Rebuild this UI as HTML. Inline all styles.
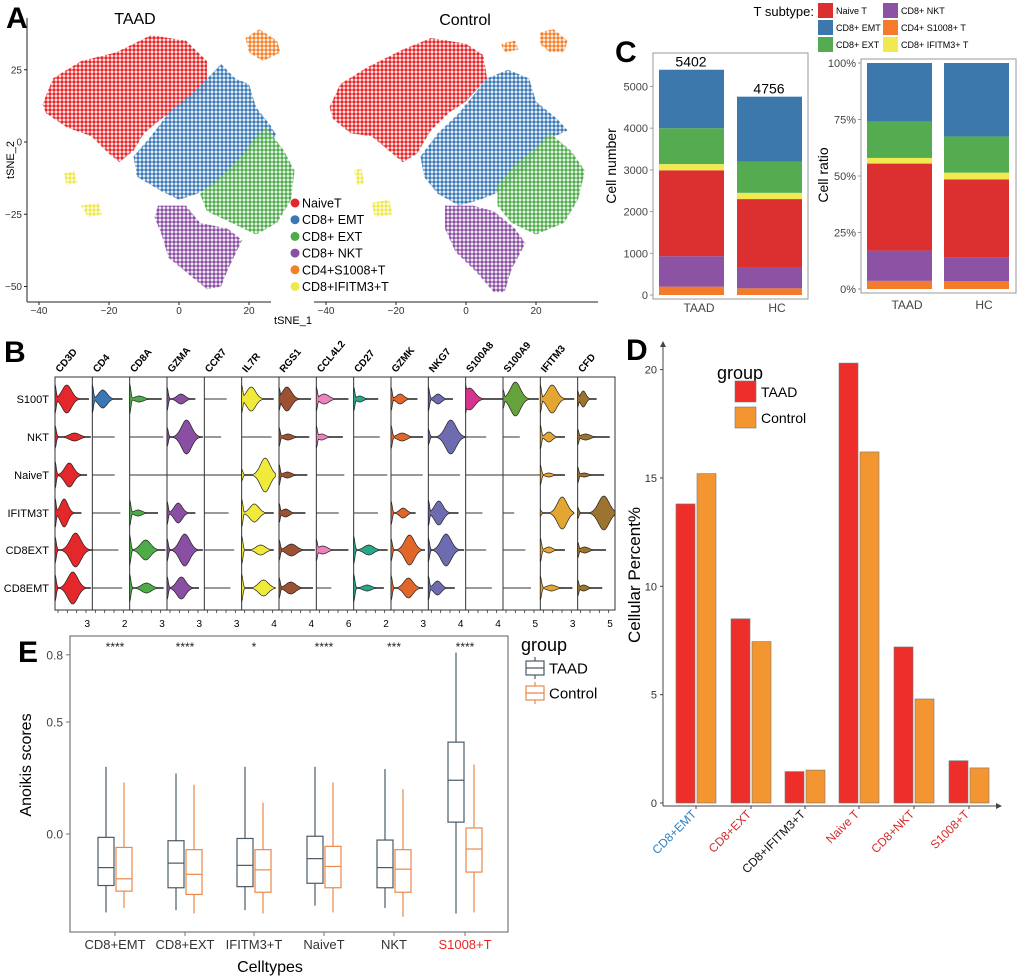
<!DOCTYPE html>
<html><head><meta charset="utf-8">
<style>
html,body{margin:0;padding:0;background:#fff;}
svg{display:block;font-family:"Liberation Sans",Arial,sans-serif;}
</style></head>
<body>
<svg id="fig" width="1020" height="979" viewBox="0 0 1020 979" xmlns="http://www.w3.org/2000/svg">
<defs>
<pattern id="pd-red" width="4" height="4" patternUnits="userSpaceOnUse"><circle cx="2" cy="2" r="1.7" fill="#e3272a"/></pattern>
<pattern id="pd-blue" width="4" height="4" patternUnits="userSpaceOnUse"><circle cx="2" cy="2" r="1.7" fill="#3a78b5"/></pattern>
<pattern id="pd-green" width="4" height="4" patternUnits="userSpaceOnUse"><circle cx="2" cy="2" r="1.7" fill="#4dac48"/></pattern>
<pattern id="pd-purple" width="4" height="4" patternUnits="userSpaceOnUse"><circle cx="2" cy="2" r="1.7" fill="#8a4ea2"/></pattern>
<pattern id="pd-orange" width="4" height="4" patternUnits="userSpaceOnUse"><circle cx="2" cy="2" r="1.7" fill="#f3812a"/></pattern>
<pattern id="pd-yellow" width="4" height="4" patternUnits="userSpaceOnUse"><circle cx="2" cy="2" r="1.7" fill="#eee84a"/></pattern>
</defs>
<text x="6" y="28" font-size="30" font-weight="bold">A</text>
<text x="135" y="24" font-size="16" text-anchor="middle">TAAD</text>
<text x="465" y="25" font-size="16" text-anchor="middle">Control</text>
<text x="615" y="62" font-size="30" font-weight="bold">C</text>
<text x="4" y="362" font-size="30" font-weight="bold">B</text>
<text x="626" y="360" font-size="30" font-weight="bold">D</text>
<text x="18" y="662" font-size="30" font-weight="bold">E</text>
<g id="gA"></g><g id="gB"></g><g id="gC"></g><g id="gD"></g><g id="gE"></g>
</svg>
<script>
// ===== Panel A data (cluster outlines in tSNE units) =====
const tsneClusters = ["NaiveT","CD8+ EMT","CD8+ EXT","CD8+ NKT","CD4+S1008+T","CD8+IFITM3+T"];
const tsneFills = ["pd-red","pd-blue","pd-green","pd-purple","pd-orange","pd-yellow"];
const tsneLegendColors = ["#e3272a","#3a78b5","#4dac48","#8a4ea2","#f3812a","#eee84a"];
const taadRed = [[-39,13],[-36,22],[-28,28],[-18,31],[-8,37],[2,35],[8,28],[8,18],[0,12],[-5,8],[-10,3],[-13,-3],[-17,-7],[-20,-4],[-25,2],[-32,5],[-38,10]];
const taadBlue = [[-13,-5],[-8,2],[-3,10],[5,18],[12,27],[16,22],[20,20],[22,12],[26,6],[28,2],[22,0],[18,-8],[10,-15],[5,-18],[0,-20],[-5,-17],[-12,-12]];
const taadGreen = [[6,-18],[12,-12],[18,-5],[22,2],[25,5],[30,-3],[33,-10],[32,-20],[28,-28],[22,-32],[15,-28],[8,-24]];
const taadPurple = [[-6,-22],[2,-22],[6,-28],[14,-30],[18,-34],[14,-44],[12,-50],[8,-51],[3,-46],[-3,-40],[-5,-32],[-7,-26]];
const taadOrange = [[19,36],[23,39],[28,35],[29,31],[24,28],[20,31]];
const taadYellowA = [[-33,-11],[-30,-10],[-29,-14],[-32,-15]];
const taadYellowB = [[-28,-22],[-23,-21],[-22,-25],[-26,-26]];
const ctrlRed = [[-39,12],[-36,20],[-28,26],[-18,32],[-10,36],[0,34],[5,30],[6,22],[0,14],[-5,10],[-10,4],[-14,-4],[-18,-7],[-22,-3],[-27,2],[-33,3],[-38,8]];
const ctrlBlue = [[-13,-5],[-8,3],[-2,10],[6,22],[12,25],[18,22],[20,14],[26,8],[29,4],[22,0],[18,-8],[10,-17],[4,-20],[-2,-22],[-8,-18],[-12,-12]];
const ctrlGreen = [[9,-15],[14,-8],[20,-2],[24,3],[30,-3],[34,-10],[32,-20],[28,-28],[20,-32],[13,-28],[9,-22]];
const ctrlPurple = [[-6,-22],[2,-22],[8,-24],[14,-30],[17,-35],[13,-44],[11,-52],[8,-52],[3,-45],[-3,-38],[-6,-30]];
const ctrlOrange = [[21,38],[25,39],[29,35],[28,31],[24,31],[21,34]];
const ctrlOrangeB = [[10,34],[14,35],[15,32],[11,31]];
const ctrlYellowA = [[-32,-10],[-30,-9],[-29,-14],[-31,-15]];
const ctrlYellowB = [[-27,-21],[-22,-20],[-21,-25],[-26,-26]];
const xTicksA = [-40,-20,0,20];
const yTicksA = [25,0,-25,-50];

// ===== Panel B data =====
const genes = ["CD3D","CD4","CD8A","GZMA","CCR7","IL7R","RGS1","CCL4L2","CD27","GZMK","NKG7","S100A8","S100A9","IFITM3","CFD"];
const geneColors = ["#e3272a","#3a78b5","#4dac48","#8a4ea2","#888","#f0ea3a","#9c5230","#ee82bf","#2aa68a","#e0662a","#6d6cb0","#d6338e","#66a23b","#e3a632","#9c7430"];
const cellRows = ["S100T","NKT","NaiveT","IFITM3T","CD8EXT","CD8EMT"];
const geneMaxLabels = ["3","2","3","3","3","4","4","6","2","3","4","4","5","3","5"];
// per gene: per row [length fraction, bump half-height, peak position, zero spike]
const vCD3D = [[.9,14,.35,15],[.95,4,.55,12],[.85,12,.45,14],[.7,14,.35,15],[1,17,.55,14],[.95,16,.5,14]];
const vCD4 = [[.8,9,.35,14],[.6,0,0,0],[.6,0,0,0],[.75,0,0,0],[.7,0,0,0],[.8,0,0,0]];
const vCD8A = [[.85,3,.3,15],[.9,0,0,0],[1,0,0,0],[.75,3,.3,13],[.95,10,.45,15],[.9,5,.5,14]];
const vGZMA = [[.75,5,.5,12],[.95,17,.55,10],[1,0,0,0],[.75,10,.4,12],[.95,16,.5,12],[.85,11,.45,12]];
const vCCR7 = [[.6,0,0,0],[.45,0,0,0],[1,0,0,0],[.65,0,0,0],[.8,0,0,0],[.7,0,0,0]];
const vIL7R = [[.85,12,.3,14],[.8,0,0,0],[.9,17,.7,6],[.85,9,.4,14],[.85,5,.6,14],[.9,8,.65,14]];
const vRGS1 = [[.85,12,.25,12],[.8,3,.3,10],[.75,3,.3,11],[.7,4,.25,10],[.95,6,.35,11],[.9,6,.35,11]];
const vCCL4L2 = [[.85,5,.25,12],[.7,3,.2,11],[.75,0,0,0],[.6,0,0,0],[.85,4,.2,11],[.4,0,0,0]];
const vCD27 = [[.65,3,.25,12],[.7,0,0,0],[.9,0,0,0],[.65,0,0,0],[.9,5,.45,14],[.8,3,.45,14]];
const vGZMK = [[.7,5,.35,12],[.85,4,.35,12],[.85,0,0,0],[.65,5,.5,12],[.9,15,.55,12],[.85,10,.55,13]];
const vNKG7 = [[.65,5,.4,12],[1,17,.6,8],[.85,0,0,0],[.8,12,.35,13],[.95,16,.5,12],[.7,7,.35,12]];
const vS100A8 = [[1,11,.1,14],[.55,0,0,0],[1,0,0,0],[.45,0,0,0],[.55,0,0,0],[.7,0,0,0]];
const vS100A9 = [[.95,17,.35,10],[.45,0,0,0],[1,0,0,0],[.3,0,0,0],[.6,0,0,0],[.75,0,0,0]];
const vIFITM3 = [[.9,14,.35,14],[.65,5,.35,12],[.65,2,.35,10],[.9,16,.65,3],[.65,3,.35,12],[.85,3,.35,12]];
const vCFD = [[.5,8,.3,8],[.85,3,.25,8],[.7,2,.25,8],[1,17,.7,6],[.75,3,.25,8],[.65,3,.25,8]];
const violinData = [vCD3D,vCD4,vCD8A,vGZMA,vCCR7,vIL7R,vRGS1,vCCL4L2,vCD27,vGZMK,vNKG7,vS100A8,vS100A9,vIFITM3,vCFD];

// ===== Panel C data =====
const subtypeNames = ["CD4+ S1008+ T","CD8+ NKT","Naive T","CD8+ IFITM3+ T","CD8+ EXT","CD8+ EMT"];
const subtypeColors = ["#f37b2b","#8c52a3","#dc2f2f","#f0ea50","#55ab4f","#3d78ad"];
const groupsC = ["TAAD","HC"];
const countsTAAD = [200,730,2060,150,860,1402];
const countsHC = [160,490,1650,150,750,1556];
const totalsC = ["5402","4756"];
const ratioTAAD = [3.6,13.4,38.5,2.5,16,26];
const ratioHC = [3.5,10.3,34.7,3,16,32.5];
const countTicks = [0,1000,2000,3000,4000,5000];
const ratioTicks = [0,25,50,75,100];

// ===== Panel D data =====
const catsD = ["CD8+EMT","CD8+EXT","CD8+IFITM3+T","Naive T","CD8+NKT","S1008+T"];
const catColorsD = ["#2f7fc1","#d62a2a","#111","#d62a2a","#d62a2a","#d62a2a"];
const taadPct = [13.8,8.5,1.45,20.3,7.2,1.95];
const controlPct = [15.2,7.45,1.52,16.2,4.8,1.62];
const yTicksD = [0,5,10,15,20];

// ===== Panel E data =====
const catsE = ["CD8+EMT","CD8+EXT","IFITM3+T","NaiveT","NKT","S1008+T"];
const sigE = ["****","****","*","****","***","****"];
// [low, q1, median, q3, high]
const boxTAAD = [[-.35,-.23,-.15,-.015,.30],[-.34,-.24,-.13,-.03,.27],[-.34,-.235,-.14,-.02,.30],[-.32,-.22,-.11,-.01,.30],[-.33,-.24,-.15,-.027,.29],[-.355,.053,.24,.41,.81]];
const boxCtrl = [[-.33,-.255,-.2,-.06,.23],[-.355,-.27,-.18,-.07,.22],[-.355,-.26,-.16,-.07,.14],[-.35,-.24,-.145,-.055,.23],[-.37,-.26,-.157,-.07,.2],[-.35,-.17,-.067,.027,.31]];
const yTicksE = [0.0,0.5,0.8];

const NS="http://www.w3.org/2000/svg";
function mk(tag,attrs,parent,text){const e=document.createElementNS(NS,tag);for(const k in attrs)e.setAttribute(k,attrs[k]);if(text!==undefined)e.textContent=text;parent.appendChild(e);return e;}

// ---------- Panel A ----------
(function(){
const g=document.getElementById('gA');
const yA=v=>142-2.89*v;
const panels=[{x0:179,ax0:27,ax1:271,name:'taad',sets:[[taadRed,0],[taadBlue,1],[taadGreen,2],[taadPurple,3],[taadOrange,4],[taadYellowA,5],[taadYellowB,5]]},
 {x0:466,ax0:314,ax1:598,name:'control',sets:[[ctrlRed,0],[ctrlBlue,1],[ctrlGreen,2],[ctrlPurple,3],[ctrlOrange,4],[ctrlOrangeB,4],[ctrlYellowA,5],[ctrlYellowB,5]]}];
panels.forEach(p=>{
 const xA=u=>p.x0+3.5*u;
 p.sets.forEach(s=>{
  const pts=s[0].map(q=>xA(q[0]).toFixed(1)+','+yA(q[1]).toFixed(1)).join(' ');
  const e=mk('polygon',{points:pts,fill:'url(#'+tsneFills[s[1]]+')'},g);
  
  
 });
 const xa=mk('line',{x1:p.ax0,y1:302,x2:p.ax1,y2:302,stroke:'#222','stroke-width':1},g);
 
 
 xTicksA.forEach(t=>{
  mk('line',{x1:xA(t),y1:302,x2:xA(t),y2:305,stroke:'#222'},g);
  const tl=mk('text',{x:xA(t),y:314,'font-size':10,'text-anchor':'middle',fill:'#333'},g,String(t).replace('-','−'));
  
  
 });
});
const ya=mk('line',{x1:27,y1:18,x2:27,y2:302,stroke:'#222'},g);


yTicksA.forEach(t=>{
 mk('line',{x1:24,y1:yA(t),x2:27,y2:yA(t),stroke:'#222'},g);
 const tl=mk('text',{x:22,y:yA(t)+3.5,'font-size':10,'text-anchor':'end',fill:'#333'},g,String(t).replace('-','−'));
 
 
});
const xt=mk('text',{x:293,y:324,'font-size':11,'text-anchor':'middle'},g,'tSNE_1');


const yt=mk('text',{x:14,y:160,'font-size':11,'text-anchor':'middle',transform:'rotate(-90 14 160)'},g,'tSNE_2');


tsneClusters.forEach((c,i)=>{
 const y=203+i*16.7;
 const d=mk('circle',{cx:295,cy:y,r:4.5,fill:tsneLegendColors[i]},g);
 
 
 const t=mk('text',{x:302,y:y+4.5,'font-size':12.5},g,c);
 
 
});
})();

// ---------- Panel B ----------
(function(){
const g=document.getElementById('gB');
const L=55,R=615,T=377,Bt=610,W=(R-L)/genes.length;
const rowY=[399,437,475,513,550,588];
const fr=mk('rect',{x:L,y:T,width:R-L,height:Bt-T,fill:'none',stroke:'#333','stroke-width':1},g);


genes.forEach((gn,gi)=>{
 const x0=L+gi*W;
 if(gi>0) mk('line',{x1:x0,y1:T,x2:x0,y2:Bt,stroke:'#333','stroke-width':1},g);
 const lab=mk('text',{x:x0+5,y:373,'font-size':10,'font-weight':'bold',transform:'rotate(-50 '+(x0+5)+' 373)'},g,gn);
 
 
 for(let k=0;k<4;k++) mk('line',{x1:x0+3+k*W/4,y1:Bt,x2:x0+3+k*W/4,y2:Bt+3,stroke:'#333','stroke-width':.8},g);
 const nl=mk('text',{x:x0+W-5,y:Bt+17,'font-size':10,'text-anchor':'middle'},g,geneMaxLabels[gi]);
 
 
 violinData[gi].forEach((v,ri)=>{
  const cy=rowY[ri],len=v[0]*W,h=v[1],pk=v[2],sp=v[3];
  const N=40,top=[],bot=[];
  for(let i=0;i<=N;i++){
   const t=i/N,dx=t*len;
   let f=Math.max(sp*Math.exp(-Math.pow(dx/1.6,2)), h*Math.exp(-Math.pow((t-pk)/0.2,2)), 0.4);
   top.push((x0+dx).toFixed(1)+','+(cy-f).toFixed(1));
   bot.unshift((x0+dx).toFixed(1)+','+(cy+f).toFixed(1));
  }
  let e;
  if(h===0&&sp===0){
   e=mk('line',{x1:x0,y1:cy,x2:x0+len,y2:cy,stroke:'#333','stroke-width':1},g);
  } else {
   e=mk('polygon',{points:top.concat(bot).join(' '),fill:geneColors[gi],stroke:'#222','stroke-width':.7},g);
  }
  
  
 });
});
cellRows.forEach((r,ri)=>{
 const t=mk('text',{x:49,y:rowY[ri]+4,'font-size':11,'text-anchor':'end'},g,r);
 
 
});
})();

// ---------- Panel C ----------
(function(){
const g=document.getElementById('gC');
const lt=mk('text',{x:814,y:16,'font-size':13,'text-anchor':'end'},g,'T subtype:');


const legOrder=[[2,818,3],[5,818,20],[4,818,37],[1,883,3],[0,883,20],[3,883,37]];
legOrder.forEach(o=>{
 const s=mk('rect',{x:o[1],y:o[2],width:15,height:15,fill:subtypeColors[o[0]]},g);
 
 
 const t=mk('text',{x:o[1]+18,y:o[2]+11,'font-size':9},g,subtypeNames[o[0]]);
 
 
});
const yC=v=>295-v*0.0417;
const f1=mk('rect',{x:653,y:53,width:155,height:246,fill:'none',stroke:'#999'},g);


const barX=[[659,65],[737,65]];
[countsTAAD,countsHC].forEach((arr,bi)=>{
 let acc=0;
 arr.forEach((v,si)=>{
  const r=mk('rect',{x:barX[bi][0],y:yC(acc+v),width:barX[bi][1],height:yC(acc)-yC(acc+v),fill:subtypeColors[si]},g);
  
  
  acc+=v;
 });
 const tl=mk('text',{x:barX[bi][0]+32,y:yC(acc)-3,'font-size':14,'text-anchor':'middle'},g,totalsC[bi]);
 
 
 const xl=mk('text',{x:barX[bi][0]+40,y:312,'font-size':12,'text-anchor':'middle',fill:'#444'},g,groupsC[bi]);
 
 
});
countTicks.forEach(t=>{
 mk('line',{x1:650,y1:yC(t),x2:653,y2:yC(t),stroke:'#999'},g);
 const e=mk('text',{x:648,y:yC(t)+4,'font-size':11,'text-anchor':'end',fill:'#444'},g,String(t));
 
 
});
const yt1=mk('text',{x:616,y:166,'font-size':14,'text-anchor':'middle',transform:'rotate(-90 616 166)'},g,'Cell number');


const yR=v=>289-v*2.26;
const f2=mk('rect',{x:861,y:59,width:155,height:234,fill:'none',stroke:'#999'},g);


const barR=[867,944];
[ratioTAAD,ratioHC].forEach((arr,bi)=>{
 let acc=0;
 arr.forEach((v,si)=>{
  const r=mk('rect',{x:barR[bi],y:yR(acc+v),width:65,height:yR(acc)-yR(acc+v),fill:subtypeColors[si]},g);
  
  
  acc+=v;
 });
 const xl=mk('text',{x:barR[bi]+40,y:309,'font-size':12,'text-anchor':'middle',fill:'#444'},g,groupsC[bi]);
 
 
});
ratioTicks.forEach(t=>{
 mk('line',{x1:858,y1:yR(t),x2:861,y2:yR(t),stroke:'#999'},g);
 const e=mk('text',{x:856,y:yR(t)+4,'font-size':11,'text-anchor':'end',fill:'#444'},g,t+'%');
 
 
});
const yt2=mk('text',{x:828,y:175,'font-size':14,'text-anchor':'middle',transform:'rotate(-90 828 175)'},g,'Cell ratio');


})();

// ---------- Panel D ----------
(function(){
const g=document.getElementById('gD');
const yD=v=>803-v*21.67;
const cx=[696,751,805,859,914,969];
const ya=mk('line',{x1:663,y1:806,x2:663,y2:345,stroke:'#444'},g);


mk('path',{d:'M660,347 L663,341 L666,347 Z',fill:'#444'},g);
const xa=mk('line',{x1:663,y1:806,x2:998,y2:806,stroke:'#444'},g);


mk('path',{d:'M996,803 L1002,806 L996,809 Z',fill:'#444'},g);
yTicksD.forEach(t=>{
 mk('line',{x1:660,y1:yD(t),x2:663,y2:yD(t),stroke:'#444'},g);
 const e=mk('text',{x:657,y:yD(t)+4,'font-size':11,'text-anchor':'end',fill:'#333'},g,String(t));
 
 
});
catsD.forEach((c,i)=>{
 const b1=mk('rect',{x:cx[i]-20,y:yD(taadPct[i]),width:19,height:yD(0)-yD(taadPct[i]),fill:'#ee2e2a',stroke:'#777','stroke-width':.6},g);
 
 
 const b2=mk('rect',{x:cx[i]+1,y:yD(controlPct[i]),width:19,height:yD(0)-yD(controlPct[i]),fill:'#f39530',stroke:'#777','stroke-width':.6},g);
 
 
 mk('line',{x1:cx[i],y1:806,x2:cx[i],y2:809,stroke:'#444'},g);
 const t=mk('text',{x:cx[i]+1,y:815,'font-size':12,'text-anchor':'end',fill:catColorsD[i],transform:'rotate(-45 '+(cx[i]+1)+' 815)'},g,c);
 
 
});
const yt=mk('text',{x:640,y:575,'font-size':17,'text-anchor':'middle',transform:'rotate(-90 640 575)'},g,'Cellular Percent%');


const lg=mk('text',{x:717,y:379,'font-size':18},g,'group');


[['TAAD','#ee2e2a',381],['Control','#f39530',407]].forEach(l=>{
 const s=mk('rect',{x:735,y:l[2],width:21,height:21,fill:l[1],stroke:'#777','stroke-width':.6},g);
 
 
 const t=mk('text',{x:761,y:l[2]+16,'font-size':14},g,l[0]);
 
 
});
})();

// ---------- Panel E ----------
(function(){
const g=document.getElementById('gE');
const yE=v=>834-v*224;
const cx=[115,185,254,324,394,465];
const fr=mk('rect',{x:70,y:636,width:438,height:296,fill:'none',stroke:'#777','stroke-width':1.2},g);


yTicksE.forEach(t=>{
 mk('line',{x1:66,y1:yE(t),x2:70,y2:yE(t),stroke:'#777'},g);
 const e=mk('text',{x:63,y:yE(t)+4.5,'font-size':12,'text-anchor':'end',fill:'#444'},g,t.toFixed(1));
 
 
});
function box(c,d,col,name){
 const gg=mk('g',{},g);
 
 
 mk('line',{x1:c,y1:yE(d[4]),x2:c,y2:yE(d[3]),stroke:col,'stroke-width':1.2},gg);
 mk('line',{x1:c,y1:yE(d[1]),x2:c,y2:yE(d[0]),stroke:col,'stroke-width':1.2},gg);
 mk('rect',{x:c-8,y:yE(d[3]),width:16,height:yE(d[1])-yE(d[3]),fill:'#fff',stroke:col,'stroke-width':1.2},gg);
 mk('line',{x1:c-8,y1:yE(d[2]),x2:c+8,y2:yE(d[2]),stroke:col,'stroke-width':1.2},gg);
}
catsE.forEach((c,i)=>{
 box(cx[i]-9,boxTAAD[i],'#4a5a66','box-taad-'+i);
 box(cx[i]+9,boxCtrl[i],'#e8894a','box-control-'+i);
 mk('line',{x1:cx[i],y1:932,x2:cx[i],y2:936,stroke:'#777'},g);
 const t=mk('text',{x:cx[i],y:949,'font-size':13,'text-anchor':'middle',fill:i===5?'#e8262a':'#333'},g,c);
 
 
 const s=mk('text',{x:cx[i],y:651,'font-size':12,'text-anchor':'middle',fill:'#222'},g,sigE[i]);
 
 
});
const xt=mk('text',{x:270,y:972,'font-size':16,'text-anchor':'middle'},g,'Celltypes');


const yt=mk('text',{x:31,y:765,'font-size':16,'text-anchor':'middle',transform:'rotate(-90 31 765)'},g,'Anoikis scores');


const lg=mk('text',{x:521,y:651,'font-size':18},g,'group');


[['TAAD','#4a5a66',668],['Control','#e8894a',693]].forEach(l=>{
 const gg=mk('g',{},g);
 
 
 mk('line',{x1:535,y1:l[2]-11,x2:535,y2:l[2]+11,stroke:l[1],'stroke-width':1.2},gg);
 mk('rect',{x:526,y:l[2]-7,width:18,height:14,fill:'#fff',stroke:l[1],'stroke-width':1.2},gg);
 mk('line',{x1:526,y1:l[2],x2:544,y2:l[2],stroke:l[1],'stroke-width':1.2},gg);
 const t=mk('text',{x:549,y:l[2]+5.5,'font-size':15},g,l[0]);
 
 
});
})();
</script>
</body></html>
